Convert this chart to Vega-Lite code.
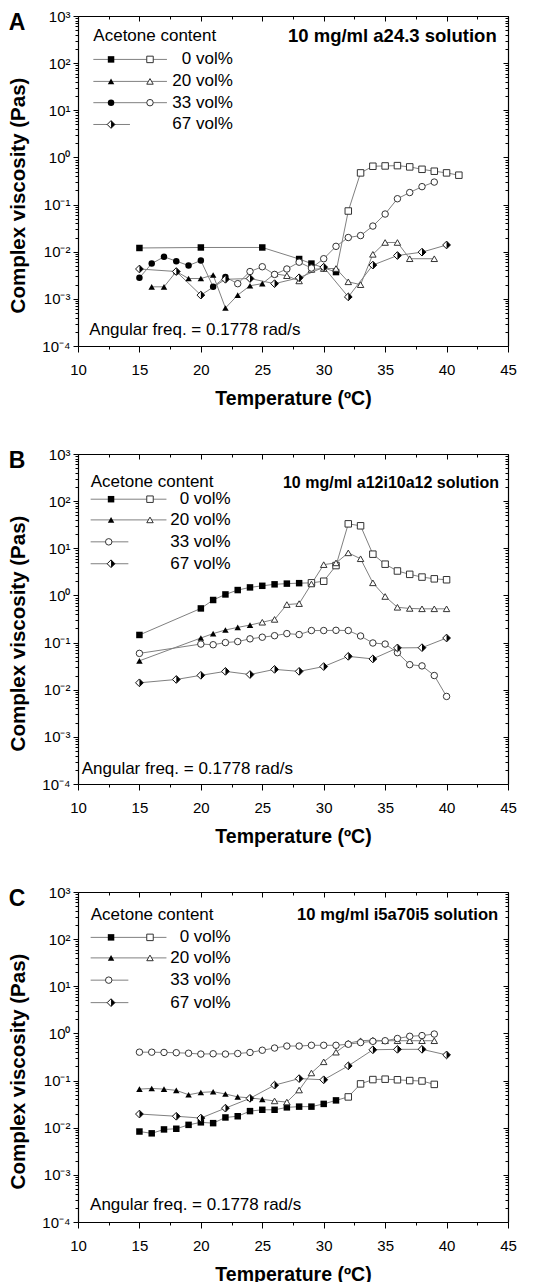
{
"$schema":"https://vega.github.io/schema/vega-lite/v6.json",
"padding":{"left":8,"top":9,"right":0,"bottom":0},
"spacing":39,
"config":{"font":"Liberation Sans","view":{"stroke":null},"axis":{"domainColor":"#000","domainWidth":1.2,"tickColor":"#000","tickWidth":1,"labelColor":"#000","titleColor":"#000","grid":false},"title":{"color":"#000"},"text":{"color":"#000"}},
"datasets":{"visc":[
{"p":"A","s":"0 vol%","T":15,"v":0.012,"g":1},{"p":"A","s":"0 vol%","T":20,"v":0.0123,"g":1},{"p":"A","s":"0 vol%","T":25,"v":0.0123,"g":1},{"p":"A","s":"0 vol%","T":28,"v":0.007,"g":1},{"p":"A","s":"0 vol%","T":29,"v":0.0056,"g":1},{"p":"A","s":"0 vol%","T":31,"v":0.0037,"g":1},
{"p":"A","s":"0 vol%","T":32,"v":0.073,"g":2},{"p":"A","s":"0 vol%","T":33,"v":0.47,"g":2},{"p":"A","s":"0 vol%","T":34,"v":0.65,"g":2},{"p":"A","s":"0 vol%","T":35,"v":0.66,"g":2},{"p":"A","s":"0 vol%","T":36,"v":0.67,"g":2},{"p":"A","s":"0 vol%","T":37,"v":0.63,"g":2},{"p":"A","s":"0 vol%","T":38,"v":0.56,"g":2},{"p":"A","s":"0 vol%","T":39,"v":0.51,"g":2},{"p":"A","s":"0 vol%","T":40,"v":0.47,"g":2},{"p":"A","s":"0 vol%","T":41,"v":0.42,"g":2},
{"p":"A","s":"20 vol%","T":16,"v":0.0018,"g":1},{"p":"A","s":"20 vol%","T":17,"v":0.0018,"g":1},{"p":"A","s":"20 vol%","T":18,"v":0.0038,"g":1},{"p":"A","s":"20 vol%","T":19,"v":0.0027,"g":1},{"p":"A","s":"20 vol%","T":20,"v":0.0027,"g":1},{"p":"A","s":"20 vol%","T":21,"v":0.0032,"g":1},{"p":"A","s":"20 vol%","T":22,"v":0.00064,"g":1},{"p":"A","s":"20 vol%","T":23,"v":0.0012,"g":1},{"p":"A","s":"20 vol%","T":24,"v":0.0019,"g":1},{"p":"A","s":"20 vol%","T":25,"v":0.0021,"g":1},
{"p":"A","s":"20 vol%","T":26,"v":0.0034,"g":2},{"p":"A","s":"20 vol%","T":27,"v":0.0031,"g":2},{"p":"A","s":"20 vol%","T":28,"v":0.0024,"g":2},{"p":"A","s":"20 vol%","T":29,"v":0.0042,"g":2},{"p":"A","s":"20 vol%","T":30,"v":0.0044,"g":2},{"p":"A","s":"20 vol%","T":31,"v":0.0044,"g":2},{"p":"A","s":"20 vol%","T":32,"v":0.0023,"g":2},{"p":"A","s":"20 vol%","T":33,"v":0.002,"g":2},{"p":"A","s":"20 vol%","T":34,"v":0.0088,"g":2},{"p":"A","s":"20 vol%","T":35,"v":0.0157,"g":2},{"p":"A","s":"20 vol%","T":36,"v":0.0157,"g":2},{"p":"A","s":"20 vol%","T":37,"v":0.0071,"g":2},{"p":"A","s":"20 vol%","T":39,"v":0.0071,"g":2},
{"p":"A","s":"33 vol%","T":15,"v":0.0028,"g":1},{"p":"A","s":"33 vol%","T":16,"v":0.0056,"g":1},{"p":"A","s":"33 vol%","T":17,"v":0.0078,"g":1},{"p":"A","s":"33 vol%","T":18,"v":0.0063,"g":1},{"p":"A","s":"33 vol%","T":19,"v":0.0051,"g":1},{"p":"A","s":"33 vol%","T":20,"v":0.0065,"g":1},{"p":"A","s":"33 vol%","T":21,"v":0.0018,"g":1},{"p":"A","s":"33 vol%","T":22,"v":0.0029,"g":1},
{"p":"A","s":"33 vol%","T":23,"v":0.0021,"g":2},{"p":"A","s":"33 vol%","T":24,"v":0.0038,"g":2},{"p":"A","s":"33 vol%","T":25,"v":0.0048,"g":2},{"p":"A","s":"33 vol%","T":26,"v":0.0033,"g":2},{"p":"A","s":"33 vol%","T":27,"v":0.0043,"g":2},{"p":"A","s":"33 vol%","T":28,"v":0.006,"g":2},{"p":"A","s":"33 vol%","T":29,"v":0.0045,"g":2},{"p":"A","s":"33 vol%","T":30,"v":0.0071,"g":2},{"p":"A","s":"33 vol%","T":31,"v":0.013,"g":2},{"p":"A","s":"33 vol%","T":32,"v":0.02,"g":2},{"p":"A","s":"33 vol%","T":33,"v":0.022,"g":2},{"p":"A","s":"33 vol%","T":34,"v":0.035,"g":2},{"p":"A","s":"33 vol%","T":35,"v":0.063,"g":2},{"p":"A","s":"33 vol%","T":36,"v":0.133,"g":2},{"p":"A","s":"33 vol%","T":37,"v":0.18,"g":2},{"p":"A","s":"33 vol%","T":38,"v":0.24,"g":2},{"p":"A","s":"33 vol%","T":39,"v":0.3,"g":2},
{"p":"A","s":"67 vol%","T":15,"v":0.0043,"g":1},{"p":"A","s":"67 vol%","T":18,"v":0.0038,"g":1},{"p":"A","s":"67 vol%","T":20,"v":0.0012,"g":1},{"p":"A","s":"67 vol%","T":22,"v":0.0026,"g":1},{"p":"A","s":"67 vol%","T":24,"v":0.0027,"g":1},{"p":"A","s":"67 vol%","T":26,"v":0.0021,"g":1},{"p":"A","s":"67 vol%","T":28,"v":0.0028,"g":1},{"p":"A","s":"67 vol%","T":30,"v":0.0047,"g":1},{"p":"A","s":"67 vol%","T":32,"v":0.0011,"g":1},{"p":"A","s":"67 vol%","T":34,"v":0.0052,"g":1},{"p":"A","s":"67 vol%","T":36,"v":0.0083,"g":1},{"p":"A","s":"67 vol%","T":38,"v":0.0098,"g":1},{"p":"A","s":"67 vol%","T":40,"v":0.0139,"g":1},
{"p":"B","s":"0 vol%","T":15,"v":0.145,"g":1},{"p":"B","s":"0 vol%","T":20,"v":0.53,"g":1},{"p":"B","s":"0 vol%","T":21,"v":0.8,"g":1},{"p":"B","s":"0 vol%","T":22,"v":1.05,"g":1},{"p":"B","s":"0 vol%","T":23,"v":1.3,"g":1},{"p":"B","s":"0 vol%","T":24,"v":1.48,"g":1},{"p":"B","s":"0 vol%","T":25,"v":1.6,"g":1},{"p":"B","s":"0 vol%","T":26,"v":1.72,"g":1},{"p":"B","s":"0 vol%","T":27,"v":1.78,"g":1},{"p":"B","s":"0 vol%","T":28,"v":1.82,"g":1},
{"p":"B","s":"0 vol%","T":29,"v":1.85,"g":2},{"p":"B","s":"0 vol%","T":30,"v":2.0,"g":2},{"p":"B","s":"0 vol%","T":31,"v":4.3,"g":2},{"p":"B","s":"0 vol%","T":32,"v":33,"g":2},{"p":"B","s":"0 vol%","T":33,"v":30,"g":2},{"p":"B","s":"0 vol%","T":34,"v":7.5,"g":2},{"p":"B","s":"0 vol%","T":35,"v":4.6,"g":2},{"p":"B","s":"0 vol%","T":36,"v":3.3,"g":2},{"p":"B","s":"0 vol%","T":37,"v":2.8,"g":2},{"p":"B","s":"0 vol%","T":38,"v":2.45,"g":2},{"p":"B","s":"0 vol%","T":39,"v":2.25,"g":2},{"p":"B","s":"0 vol%","T":40,"v":2.15,"g":2},
{"p":"B","s":"20 vol%","T":15,"v":0.041,"g":1},{"p":"B","s":"20 vol%","T":20,"v":0.125,"g":1},{"p":"B","s":"20 vol%","T":21,"v":0.155,"g":1},{"p":"B","s":"20 vol%","T":22,"v":0.185,"g":1},{"p":"B","s":"20 vol%","T":23,"v":0.21,"g":1},{"p":"B","s":"20 vol%","T":24,"v":0.235,"g":1},
{"p":"B","s":"20 vol%","T":25,"v":0.27,"g":2},{"p":"B","s":"20 vol%","T":26,"v":0.31,"g":2},{"p":"B","s":"20 vol%","T":27,"v":0.64,"g":2},{"p":"B","s":"20 vol%","T":28,"v":0.67,"g":2},{"p":"B","s":"20 vol%","T":29,"v":1.75,"g":2},{"p":"B","s":"20 vol%","T":30,"v":4.5,"g":2},{"p":"B","s":"20 vol%","T":31,"v":4.9,"g":2},{"p":"B","s":"20 vol%","T":32,"v":8.0,"g":2},{"p":"B","s":"20 vol%","T":33,"v":6.0,"g":2},{"p":"B","s":"20 vol%","T":34,"v":1.85,"g":2},{"p":"B","s":"20 vol%","T":35,"v":0.95,"g":2},{"p":"B","s":"20 vol%","T":36,"v":0.56,"g":2},{"p":"B","s":"20 vol%","T":37,"v":0.53,"g":2},{"p":"B","s":"20 vol%","T":38,"v":0.52,"g":2},{"p":"B","s":"20 vol%","T":39,"v":0.52,"g":2},{"p":"B","s":"20 vol%","T":40,"v":0.52,"g":2},
{"p":"B","s":"33 vol%","T":15,"v":0.059,"g":2},{"p":"B","s":"33 vol%","T":20,"v":0.093,"g":2},{"p":"B","s":"33 vol%","T":21,"v":0.09,"g":2},{"p":"B","s":"33 vol%","T":22,"v":0.1,"g":2},{"p":"B","s":"33 vol%","T":23,"v":0.105,"g":2},{"p":"B","s":"33 vol%","T":24,"v":0.12,"g":2},{"p":"B","s":"33 vol%","T":25,"v":0.13,"g":2},{"p":"B","s":"33 vol%","T":26,"v":0.14,"g":2},{"p":"B","s":"33 vol%","T":27,"v":0.155,"g":2},{"p":"B","s":"33 vol%","T":28,"v":0.148,"g":2},{"p":"B","s":"33 vol%","T":29,"v":0.18,"g":2},{"p":"B","s":"33 vol%","T":30,"v":0.18,"g":2},{"p":"B","s":"33 vol%","T":31,"v":0.182,"g":2},{"p":"B","s":"33 vol%","T":32,"v":0.18,"g":2},{"p":"B","s":"33 vol%","T":33,"v":0.138,"g":2},{"p":"B","s":"33 vol%","T":34,"v":0.098,"g":2},{"p":"B","s":"33 vol%","T":35,"v":0.093,"g":2},{"p":"B","s":"33 vol%","T":36,"v":0.061,"g":2},{"p":"B","s":"33 vol%","T":37,"v":0.034,"g":2},{"p":"B","s":"33 vol%","T":38,"v":0.032,"g":2},{"p":"B","s":"33 vol%","T":39,"v":0.02,"g":2},{"p":"B","s":"33 vol%","T":40,"v":0.0072,"g":2},
{"p":"B","s":"67 vol%","T":15,"v":0.014,"g":1},{"p":"B","s":"67 vol%","T":18,"v":0.0165,"g":1},{"p":"B","s":"67 vol%","T":20,"v":0.0202,"g":1},{"p":"B","s":"67 vol%","T":22,"v":0.0245,"g":1},{"p":"B","s":"67 vol%","T":24,"v":0.021,"g":1},{"p":"B","s":"67 vol%","T":26,"v":0.027,"g":1},{"p":"B","s":"67 vol%","T":28,"v":0.0245,"g":1},{"p":"B","s":"67 vol%","T":30,"v":0.031,"g":1},{"p":"B","s":"67 vol%","T":32,"v":0.051,"g":1},{"p":"B","s":"67 vol%","T":34,"v":0.045,"g":1},{"p":"B","s":"67 vol%","T":36,"v":0.077,"g":1},{"p":"B","s":"67 vol%","T":38,"v":0.078,"g":1},{"p":"B","s":"67 vol%","T":40,"v":0.125,"g":1},
{"p":"C","s":"0 vol%","T":15,"v":0.0083,"g":1},{"p":"C","s":"0 vol%","T":16,"v":0.0076,"g":1},{"p":"C","s":"0 vol%","T":17,"v":0.0092,"g":1},{"p":"C","s":"0 vol%","T":18,"v":0.0095,"g":1},{"p":"C","s":"0 vol%","T":19,"v":0.0115,"g":1},{"p":"C","s":"0 vol%","T":20,"v":0.013,"g":1},{"p":"C","s":"0 vol%","T":21,"v":0.0125,"g":1},{"p":"C","s":"0 vol%","T":22,"v":0.0165,"g":1},{"p":"C","s":"0 vol%","T":23,"v":0.0175,"g":1},{"p":"C","s":"0 vol%","T":24,"v":0.0225,"g":1},{"p":"C","s":"0 vol%","T":25,"v":0.024,"g":1},{"p":"C","s":"0 vol%","T":26,"v":0.024,"g":1},{"p":"C","s":"0 vol%","T":27,"v":0.027,"g":1},{"p":"C","s":"0 vol%","T":28,"v":0.028,"g":1},{"p":"C","s":"0 vol%","T":29,"v":0.028,"g":1},{"p":"C","s":"0 vol%","T":30,"v":0.032,"g":1},{"p":"C","s":"0 vol%","T":31,"v":0.038,"g":1},
{"p":"C","s":"0 vol%","T":32,"v":0.045,"g":2},{"p":"C","s":"0 vol%","T":33,"v":0.085,"g":2},{"p":"C","s":"0 vol%","T":34,"v":0.105,"g":2},{"p":"C","s":"0 vol%","T":35,"v":0.107,"g":2},{"p":"C","s":"0 vol%","T":36,"v":0.104,"g":2},{"p":"C","s":"0 vol%","T":37,"v":0.1,"g":2},{"p":"C","s":"0 vol%","T":38,"v":0.098,"g":2},{"p":"C","s":"0 vol%","T":39,"v":0.083,"g":2},
{"p":"C","s":"20 vol%","T":15,"v":0.066,"g":1},{"p":"C","s":"20 vol%","T":16,"v":0.068,"g":1},{"p":"C","s":"20 vol%","T":17,"v":0.066,"g":1},{"p":"C","s":"20 vol%","T":18,"v":0.062,"g":1},{"p":"C","s":"20 vol%","T":19,"v":0.05,"g":1},{"p":"C","s":"20 vol%","T":20,"v":0.056,"g":1},{"p":"C","s":"20 vol%","T":21,"v":0.058,"g":1},{"p":"C","s":"20 vol%","T":22,"v":0.052,"g":1},{"p":"C","s":"20 vol%","T":23,"v":0.045,"g":1},{"p":"C","s":"20 vol%","T":24,"v":0.043,"g":1},{"p":"C","s":"20 vol%","T":25,"v":0.04,"g":1},
{"p":"C","s":"20 vol%","T":26,"v":0.037,"g":2},{"p":"C","s":"20 vol%","T":27,"v":0.035,"g":2},{"p":"C","s":"20 vol%","T":28,"v":0.063,"g":2},{"p":"C","s":"20 vol%","T":29,"v":0.145,"g":2},{"p":"C","s":"20 vol%","T":30,"v":0.25,"g":2},{"p":"C","s":"20 vol%","T":31,"v":0.4,"g":2},{"p":"C","s":"20 vol%","T":32,"v":0.62,"g":2},{"p":"C","s":"20 vol%","T":33,"v":0.7,"g":2},{"p":"C","s":"20 vol%","T":34,"v":0.72,"g":2},{"p":"C","s":"20 vol%","T":35,"v":0.7,"g":2},{"p":"C","s":"20 vol%","T":36,"v":0.7,"g":2},{"p":"C","s":"20 vol%","T":37,"v":0.7,"g":2},{"p":"C","s":"20 vol%","T":38,"v":0.7,"g":2},{"p":"C","s":"20 vol%","T":39,"v":0.7,"g":2},
{"p":"C","s":"33 vol%","T":15,"v":0.4,"g":2},{"p":"C","s":"33 vol%","T":16,"v":0.4,"g":2},{"p":"C","s":"33 vol%","T":17,"v":0.395,"g":2},{"p":"C","s":"33 vol%","T":18,"v":0.39,"g":2},{"p":"C","s":"33 vol%","T":19,"v":0.38,"g":2},{"p":"C","s":"33 vol%","T":20,"v":0.365,"g":2},{"p":"C","s":"33 vol%","T":21,"v":0.37,"g":2},{"p":"C","s":"33 vol%","T":22,"v":0.365,"g":2},{"p":"C","s":"33 vol%","T":23,"v":0.375,"g":2},{"p":"C","s":"33 vol%","T":24,"v":0.395,"g":2},{"p":"C","s":"33 vol%","T":25,"v":0.44,"g":2},{"p":"C","s":"33 vol%","T":26,"v":0.49,"g":2},{"p":"C","s":"33 vol%","T":27,"v":0.54,"g":2},{"p":"C","s":"33 vol%","T":28,"v":0.54,"g":2},{"p":"C","s":"33 vol%","T":29,"v":0.56,"g":2},{"p":"C","s":"33 vol%","T":30,"v":0.56,"g":2},{"p":"C","s":"33 vol%","T":31,"v":0.56,"g":2},{"p":"C","s":"33 vol%","T":32,"v":0.59,"g":2},{"p":"C","s":"33 vol%","T":33,"v":0.64,"g":2},{"p":"C","s":"33 vol%","T":34,"v":0.68,"g":2},{"p":"C","s":"33 vol%","T":35,"v":0.7,"g":2},{"p":"C","s":"33 vol%","T":36,"v":0.78,"g":2},{"p":"C","s":"33 vol%","T":37,"v":0.87,"g":2},{"p":"C","s":"33 vol%","T":38,"v":0.9,"g":2},{"p":"C","s":"33 vol%","T":39,"v":0.97,"g":2},
{"p":"C","s":"67 vol%","T":15,"v":0.0195,"g":1},{"p":"C","s":"67 vol%","T":18,"v":0.0175,"g":1},{"p":"C","s":"67 vol%","T":20,"v":0.016,"g":1},{"p":"C","s":"67 vol%","T":22,"v":0.026,"g":1},{"p":"C","s":"67 vol%","T":24,"v":0.042,"g":1},{"p":"C","s":"67 vol%","T":26,"v":0.08,"g":1},{"p":"C","s":"67 vol%","T":28,"v":0.11,"g":1},{"p":"C","s":"67 vol%","T":30,"v":0.104,"g":1},{"p":"C","s":"67 vol%","T":32,"v":0.205,"g":1},{"p":"C","s":"67 vol%","T":34,"v":0.45,"g":1},{"p":"C","s":"67 vol%","T":36,"v":0.46,"g":1},{"p":"C","s":"67 vol%","T":38,"v":0.46,"g":1},{"p":"C","s":"67 vol%","T":40,"v":0.35,"g":1}
]},
"vconcat":[
{"width":430,"height":330,
"title":{"text":"A","anchor":"start","frame":"bounds","fontSize":23,"fontWeight":"bold","baseline":"alphabetic","offset":-20,"dy":24},
"resolve":{"axis":{"x":"independent","y":"independent"}},
"layer":[
{"data":{"name":"visc"},"transform":[{"filter":"datum.p==='A'"}],"mark":{"type":"line","color":"#808080","strokeWidth":1},
"encoding":{"x":{"field":"T","type":"quantitative","scale":{"domain":[10,45],"nice":false,"zero":false},"axis":{"orient":"bottom","values":[10,15,20,25,30,35,40,45],"title":"Temperature (ºC)","titleFontSize":19.5,"titleFontWeight":"bold","titlePadding":12,"labelFontSize":15,"labelPadding":10,"tickSize":6,"labelFlush":false,"labelOverlap":false}},
"y":{"field":"v","type":"quantitative","scale":{"type":"log","domain":[0.0001,1000],"nice":false},"axis":{"orient":"left","values":[0.0001,0.001,0.01,0.1,1,10,100,1000],"labelExpr":"'10' + (datum.value < 1 ? '⁻' : '') + ['⁰','¹','²','³','⁴'][abs(round(log(datum.value)/LN10))]","title":"Complex viscosity (Pas)","titleFontSize":20.5,"titleFontWeight":"bold","titleY":179,"titlePadding":13,"labelFontSize":15,"labelPadding":3,"tickSize":5,"labelOverlap":false}},
"detail":{"field":"s"}}},
{"data":{"name":"visc"},"transform":[{"filter":"datum.p==='A' && datum.g===1 && datum.s!=='67 vol%'"}],"mark":{"type":"point","filled":true,"fill":"#000","strokeWidth":0,"size":42,"opacity":1},
"encoding":{"x":{"field":"T","type":"quantitative","axis":{"orient":"bottom","values":[12.5,17.5,22.5,27.5,32.5,37.5,42.5],"labels":false,"domain":false,"tickSize":3,"title":null}},
"y":{"field":"v","type":"quantitative","scale":{"type":"log"},"axis":{"orient":"left","values":[0.0002,0.0003,0.0004,0.0005,0.0006,0.0007,0.0008,0.0009,0.002,0.003,0.004,0.005,0.006,0.007,0.008,0.009,0.02,0.03,0.04,0.05,0.06,0.07,0.08,0.09,0.2,0.3,0.4,0.5,0.6,0.7,0.8,0.9,2,3,4,5,6,7,8,9,20,30,40,50,60,70,80,90,200,300,400,500,600,700,800,900],"labels":false,"domain":false,"tickSize":3,"title":null}},
"shape":{"field":"s","scale":{"domain":["0 vol%","20 vol%","33 vol%","67 vol%"],"range":["square","triangle-up","circle","diamond"]},"legend":null}}},
{"data":{"name":"visc"},"transform":[{"filter":"datum.p==='A' && datum.g===2"}],"mark":{"type":"point","filled":true,"fill":"#fff","stroke":"#333","strokeWidth":1,"size":42,"opacity":1},
"encoding":{"x":{"field":"T","type":"quantitative","axis":{"orient":"top","values":[10,15,20,25,30,35,40,45],"labels":false,"tickSize":-5,"title":null}},
"y":{"field":"v","type":"quantitative","scale":{"type":"log"},"axis":{"orient":"right","values":[0.0001,0.001,0.01,0.1,1,10,100,1000],"labels":false,"tickSize":-5,"title":null}},
"shape":{"field":"s","legend":null}}},
{"data":{"name":"visc"},"transform":[{"filter":"datum.p==='A' && datum.s==='67 vol%'"}],"mark":{"type":"point","shape":"diamond","filled":true,"fill":"#fff","stroke":"#111","strokeWidth":1,"size":60,"opacity":1},
"encoding":{"x":{"field":"T","type":"quantitative","axis":{"orient":"top","values":[12.5,17.5,22.5,27.5,32.5,37.5,42.5],"labels":false,"domain":false,"tickSize":-3,"title":null}},
"y":{"field":"v","type":"quantitative","scale":{"type":"log"},"axis":{"orient":"right","values":[0.0002,0.0003,0.0004,0.0005,0.0006,0.0007,0.0008,0.0009,0.002,0.003,0.004,0.005,0.006,0.007,0.008,0.009,0.02,0.03,0.04,0.05,0.06,0.07,0.08,0.09,0.2,0.3,0.4,0.5,0.6,0.7,0.8,0.9,2,3,4,5,6,7,8,9,20,30,40,50,60,70,80,90,200,300,400,500,600,700,800,900],"labels":false,"domain":false,"tickSize":-3,"title":null}}}},
{"data":{"name":"visc"},"transform":[{"filter":"datum.p==='A' && datum.s==='67 vol%'"}],"mark":{"type":"point","shape":"M0,-1L1,0L0,1Z","filled":true,"fill":"#000","strokeWidth":0,"size":60,"opacity":1},
"encoding":{"x":{"field":"T","type":"quantitative","axis":null},"y":{"field":"v","type":"quantitative","scale":{"type":"log"},"axis":null}}},
{"data":{"values":[{}]},"mark":{"type":"text","text":"Acetone content","align":"left","baseline":"middle","fontSize":17},"encoding":{"x":{"datum":11.25,"axis":null},"y":{"datum":370,"scale":{"type":"log"},"axis":null}}},
{"data":{"values":[{}]},"mark":{"type":"text","text":"10 mg/ml a24.3 solution","align":"right","baseline":"middle","fontSize":18.5,"fontWeight":"bold"},"encoding":{"x":{"datum":44.08,"axis":null},"y":{"datum":370,"scale":{"type":"log"},"axis":null}}},
{"data":{"values":[{}]},"mark":{"type":"text","text":"Angular freq. = 0.1778 rad/s","align":"left","baseline":"middle","fontSize":17},"encoding":{"x":{"datum":10.92,"axis":null},"y":{"datum":0.00022,"scale":{"type":"log"},"axis":null}}},
{"data":{"values":[{}]},"mark":{"type":"text","text":"0 vol%","align":"right","baseline":"middle","fontSize":17},"encoding":{"x":{"datum":22.6,"axis":null},"y":{"datum":120,"scale":{"type":"log"},"axis":null}}},
{"data":{"values":[{}]},"mark":{"type":"text","text":"20 vol%","align":"right","baseline":"middle","fontSize":17},"encoding":{"x":{"datum":22.6,"axis":null},"y":{"datum":41,"scale":{"type":"log"},"axis":null}}},
{"data":{"values":[{}]},"mark":{"type":"text","text":"33 vol%","align":"right","baseline":"middle","fontSize":17},"encoding":{"x":{"datum":22.6,"axis":null},"y":{"datum":14.5,"scale":{"type":"log"},"axis":null}}},
{"data":{"values":[{}]},"mark":{"type":"text","text":"67 vol%","align":"right","baseline":"middle","fontSize":17},"encoding":{"x":{"datum":22.6,"axis":null},"y":{"datum":5.0,"scale":{"type":"log"},"axis":null}}},
{"data":{"values":[{}]},"mark":{"type":"rule","color":"#808080","strokeWidth":1},"encoding":{"x":{"datum":11.25,"axis":null},"x2":{"datum":17.24},"y":{"datum":120,"scale":{"type":"log"},"axis":null}}},
{"data":{"values":[{}]},"mark":{"type":"rule","color":"#808080","strokeWidth":1},"encoding":{"x":{"datum":11.25,"axis":null},"x2":{"datum":17.24},"y":{"datum":41,"scale":{"type":"log"},"axis":null}}},
{"data":{"values":[{}]},"mark":{"type":"rule","color":"#808080","strokeWidth":1},"encoding":{"x":{"datum":11.25,"axis":null},"x2":{"datum":17.24},"y":{"datum":14.5,"scale":{"type":"log"},"axis":null}}},
{"data":{"values":[{}]},"mark":{"type":"rule","color":"#808080","strokeWidth":1},"encoding":{"x":{"datum":11.25,"axis":null},"x2":{"datum":14.23},"y":{"datum":5.0,"scale":{"type":"log"},"axis":null}}},
{"data":{"values":[{}]},"mark":{"type":"point","shape":"square","filled":true,"fill":"#000","strokeWidth":0,"size":42,"opacity":1},"encoding":{"x":{"datum":12.69,"axis":null},"y":{"datum":120,"scale":{"type":"log"},"axis":null}}},
{"data":{"values":[{}]},"mark":{"type":"point","shape":"square","filled":true,"fill":"#fff","stroke":"#333","strokeWidth":1,"size":42,"opacity":1},"encoding":{"x":{"datum":15.86,"axis":null},"y":{"datum":120,"scale":{"type":"log"},"axis":null}}},
{"data":{"values":[{}]},"mark":{"type":"point","shape":"triangle-up","filled":true,"fill":"#000","strokeWidth":0,"size":42,"opacity":1},"encoding":{"x":{"datum":12.69,"axis":null},"y":{"datum":41,"scale":{"type":"log"},"axis":null}}},
{"data":{"values":[{}]},"mark":{"type":"point","shape":"triangle-up","filled":true,"fill":"#fff","stroke":"#333","strokeWidth":1,"size":42,"opacity":1},"encoding":{"x":{"datum":15.86,"axis":null},"y":{"datum":41,"scale":{"type":"log"},"axis":null}}},
{"data":{"values":[{}]},"mark":{"type":"point","shape":"circle","filled":true,"fill":"#000","strokeWidth":0,"size":42,"opacity":1},"encoding":{"x":{"datum":12.69,"axis":null},"y":{"datum":14.5,"scale":{"type":"log"},"axis":null}}},
{"data":{"values":[{}]},"mark":{"type":"point","shape":"circle","filled":true,"fill":"#fff","stroke":"#333","strokeWidth":1,"size":42,"opacity":1},"encoding":{"x":{"datum":15.86,"axis":null},"y":{"datum":14.5,"scale":{"type":"log"},"axis":null}}},
{"data":{"values":[{}]},"mark":{"type":"point","shape":"diamond","filled":true,"fill":"#fff","stroke":"#111","strokeWidth":1,"size":60,"opacity":1},"encoding":{"x":{"datum":12.69,"axis":null},"y":{"datum":5.0,"scale":{"type":"log"},"axis":null}}},
{"data":{"values":[{}]},"mark":{"type":"point","shape":"M0,-1L1,0L0,1Z","filled":true,"fill":"#000","strokeWidth":0,"size":60,"opacity":1},"encoding":{"x":{"datum":12.69,"axis":null},"y":{"datum":5.0,"scale":{"type":"log"},"axis":null}}}
]},
{"width":430,"height":330,
"title":{"text":"B","anchor":"start","frame":"bounds","fontSize":23,"fontWeight":"bold","baseline":"alphabetic","offset":-20,"dy":24},
"resolve":{"axis":{"x":"independent","y":"independent"}},
"layer":[
{"data":{"name":"visc"},"transform":[{"filter":"datum.p==='B'"}],"mark":{"type":"line","color":"#808080","strokeWidth":1},
"encoding":{"x":{"field":"T","type":"quantitative","scale":{"domain":[10,45],"nice":false,"zero":false},"axis":{"orient":"bottom","values":[10,15,20,25,30,35,40,45],"title":"Temperature (ºC)","titleFontSize":19.5,"titleFontWeight":"bold","titlePadding":12,"labelFontSize":15,"labelPadding":10,"tickSize":6,"labelFlush":false,"labelOverlap":false}},
"y":{"field":"v","type":"quantitative","scale":{"type":"log","domain":[0.0001,1000],"nice":false},"axis":{"orient":"left","values":[0.0001,0.001,0.01,0.1,1,10,100,1000],"labelExpr":"'10' + (datum.value < 1 ? '⁻' : '') + ['⁰','¹','²','³','⁴'][abs(round(log(datum.value)/LN10))]","title":"Complex viscosity (Pas)","titleFontSize":20.5,"titleFontWeight":"bold","titleY":179,"titlePadding":13,"labelFontSize":15,"labelPadding":3,"tickSize":5,"labelOverlap":false}},
"detail":{"field":"s"}}},
{"data":{"name":"visc"},"transform":[{"filter":"datum.p==='B' && datum.g===1 && datum.s!=='67 vol%'"}],"mark":{"type":"point","filled":true,"fill":"#000","strokeWidth":0,"size":42,"opacity":1},
"encoding":{"x":{"field":"T","type":"quantitative","axis":{"orient":"bottom","values":[12.5,17.5,22.5,27.5,32.5,37.5,42.5],"labels":false,"domain":false,"tickSize":3,"title":null}},
"y":{"field":"v","type":"quantitative","scale":{"type":"log"},"axis":{"orient":"left","values":[0.0002,0.0003,0.0004,0.0005,0.0006,0.0007,0.0008,0.0009,0.002,0.003,0.004,0.005,0.006,0.007,0.008,0.009,0.02,0.03,0.04,0.05,0.06,0.07,0.08,0.09,0.2,0.3,0.4,0.5,0.6,0.7,0.8,0.9,2,3,4,5,6,7,8,9,20,30,40,50,60,70,80,90,200,300,400,500,600,700,800,900],"labels":false,"domain":false,"tickSize":3,"title":null}},
"shape":{"field":"s","scale":{"domain":["0 vol%","20 vol%","33 vol%","67 vol%"],"range":["square","triangle-up","circle","diamond"]},"legend":null}}},
{"data":{"name":"visc"},"transform":[{"filter":"datum.p==='B' && datum.g===2"}],"mark":{"type":"point","filled":true,"fill":"#fff","stroke":"#333","strokeWidth":1,"size":42,"opacity":1},
"encoding":{"x":{"field":"T","type":"quantitative","axis":{"orient":"top","values":[10,15,20,25,30,35,40,45],"labels":false,"tickSize":-5,"title":null}},
"y":{"field":"v","type":"quantitative","scale":{"type":"log"},"axis":{"orient":"right","values":[0.0001,0.001,0.01,0.1,1,10,100,1000],"labels":false,"tickSize":-5,"title":null}},
"shape":{"field":"s","legend":null}}},
{"data":{"name":"visc"},"transform":[{"filter":"datum.p==='B' && datum.s==='67 vol%'"}],"mark":{"type":"point","shape":"diamond","filled":true,"fill":"#fff","stroke":"#111","strokeWidth":1,"size":60,"opacity":1},
"encoding":{"x":{"field":"T","type":"quantitative","axis":{"orient":"top","values":[12.5,17.5,22.5,27.5,32.5,37.5,42.5],"labels":false,"domain":false,"tickSize":-3,"title":null}},
"y":{"field":"v","type":"quantitative","scale":{"type":"log"},"axis":{"orient":"right","values":[0.0002,0.0003,0.0004,0.0005,0.0006,0.0007,0.0008,0.0009,0.002,0.003,0.004,0.005,0.006,0.007,0.008,0.009,0.02,0.03,0.04,0.05,0.06,0.07,0.08,0.09,0.2,0.3,0.4,0.5,0.6,0.7,0.8,0.9,2,3,4,5,6,7,8,9,20,30,40,50,60,70,80,90,200,300,400,500,600,700,800,900],"labels":false,"domain":false,"tickSize":-3,"title":null}}}},
{"data":{"name":"visc"},"transform":[{"filter":"datum.p==='B' && datum.s==='67 vol%'"}],"mark":{"type":"point","shape":"M0,-1L1,0L0,1Z","filled":true,"fill":"#000","strokeWidth":0,"size":60,"opacity":1},
"encoding":{"x":{"field":"T","type":"quantitative","axis":null},"y":{"field":"v","type":"quantitative","scale":{"type":"log"},"axis":null}}},
{"data":{"values":[{}]},"mark":{"type":"text","text":"Acetone content","align":"left","baseline":"middle","fontSize":17},"encoding":{"x":{"datum":11.03,"axis":null},"y":{"datum":255,"scale":{"type":"log"},"axis":null}}},
{"data":{"values":[{}]},"mark":{"type":"text","text":"10 mg/ml a12i10a12 solution","align":"right","baseline":"middle","fontSize":16,"fontWeight":"bold"},"encoding":{"x":{"datum":44.27,"axis":null},"y":{"datum":240,"scale":{"type":"log"},"axis":null}}},
{"data":{"values":[{}]},"mark":{"type":"text","text":"Angular freq. = 0.1778 rad/s","align":"left","baseline":"middle","fontSize":17},"encoding":{"x":{"datum":10.3,"axis":null},"y":{"datum":0.00021,"scale":{"type":"log"},"axis":null}}},
{"data":{"values":[{}]},"mark":{"type":"text","text":"0 vol%","align":"right","baseline":"middle","fontSize":17},"encoding":{"x":{"datum":22.43,"axis":null},"y":{"datum":110,"scale":{"type":"log"},"axis":null}}},
{"data":{"values":[{}]},"mark":{"type":"text","text":"20 vol%","align":"right","baseline":"middle","fontSize":17},"encoding":{"x":{"datum":22.43,"axis":null},"y":{"datum":40,"scale":{"type":"log"},"axis":null}}},
{"data":{"values":[{}]},"mark":{"type":"text","text":"33 vol%","align":"right","baseline":"middle","fontSize":17},"encoding":{"x":{"datum":22.43,"axis":null},"y":{"datum":13.7,"scale":{"type":"log"},"axis":null}}},
{"data":{"values":[{}]},"mark":{"type":"text","text":"67 vol%","align":"right","baseline":"middle","fontSize":17},"encoding":{"x":{"datum":22.43,"axis":null},"y":{"datum":4.7,"scale":{"type":"log"},"axis":null}}},
{"data":{"values":[{}]},"mark":{"type":"rule","color":"#808080","strokeWidth":1},"encoding":{"x":{"datum":11.03,"axis":null},"x2":{"datum":17.2},"y":{"datum":110,"scale":{"type":"log"},"axis":null}}},
{"data":{"values":[{}]},"mark":{"type":"rule","color":"#808080","strokeWidth":1},"encoding":{"x":{"datum":11.03,"axis":null},"x2":{"datum":17.2},"y":{"datum":40,"scale":{"type":"log"},"axis":null}}},
{"data":{"values":[{}]},"mark":{"type":"rule","color":"#808080","strokeWidth":1},"encoding":{"x":{"datum":11.03,"axis":null},"x2":{"datum":14.1},"y":{"datum":13.7,"scale":{"type":"log"},"axis":null}}},
{"data":{"values":[{}]},"mark":{"type":"rule","color":"#808080","strokeWidth":1},"encoding":{"x":{"datum":11.03,"axis":null},"x2":{"datum":14.1},"y":{"datum":4.7,"scale":{"type":"log"},"axis":null}}},
{"data":{"values":[{}]},"mark":{"type":"point","shape":"square","filled":true,"fill":"#000","strokeWidth":0,"size":42,"opacity":1},"encoding":{"x":{"datum":12.69,"axis":null},"y":{"datum":110,"scale":{"type":"log"},"axis":null}}},
{"data":{"values":[{}]},"mark":{"type":"point","shape":"square","filled":true,"fill":"#fff","stroke":"#333","strokeWidth":1,"size":42,"opacity":1},"encoding":{"x":{"datum":15.86,"axis":null},"y":{"datum":110,"scale":{"type":"log"},"axis":null}}},
{"data":{"values":[{}]},"mark":{"type":"point","shape":"triangle-up","filled":true,"fill":"#000","strokeWidth":0,"size":42,"opacity":1},"encoding":{"x":{"datum":12.69,"axis":null},"y":{"datum":40,"scale":{"type":"log"},"axis":null}}},
{"data":{"values":[{}]},"mark":{"type":"point","shape":"triangle-up","filled":true,"fill":"#fff","stroke":"#333","strokeWidth":1,"size":42,"opacity":1},"encoding":{"x":{"datum":15.86,"axis":null},"y":{"datum":40,"scale":{"type":"log"},"axis":null}}},
{"data":{"values":[{}]},"mark":{"type":"point","shape":"circle","filled":true,"fill":"#fff","stroke":"#333","strokeWidth":1,"size":42,"opacity":1},"encoding":{"x":{"datum":12.5,"axis":null},"y":{"datum":13.7,"scale":{"type":"log"},"axis":null}}},
{"data":{"values":[{}]},"mark":{"type":"point","shape":"diamond","filled":true,"fill":"#fff","stroke":"#111","strokeWidth":1,"size":60,"opacity":1},"encoding":{"x":{"datum":12.69,"axis":null},"y":{"datum":4.7,"scale":{"type":"log"},"axis":null}}},
{"data":{"values":[{}]},"mark":{"type":"point","shape":"M0,-1L1,0L0,1Z","filled":true,"fill":"#000","strokeWidth":0,"size":60,"opacity":1},"encoding":{"x":{"datum":12.69,"axis":null},"y":{"datum":4.7,"scale":{"type":"log"},"axis":null}}}
]},
{"width":430,"height":330,
"title":{"text":"C","anchor":"start","frame":"bounds","fontSize":23,"fontWeight":"bold","baseline":"alphabetic","offset":-20,"dy":24},
"resolve":{"axis":{"x":"independent","y":"independent"}},
"layer":[
{"data":{"name":"visc"},"transform":[{"filter":"datum.p==='C'"}],"mark":{"type":"line","color":"#808080","strokeWidth":1},
"encoding":{"x":{"field":"T","type":"quantitative","scale":{"domain":[10,45],"nice":false,"zero":false},"axis":{"orient":"bottom","values":[10,15,20,25,30,35,40,45],"title":"Temperature (ºC)","titleFontSize":19.5,"titleFontWeight":"bold","titlePadding":12,"labelFontSize":15,"labelPadding":10,"tickSize":6,"labelFlush":false,"labelOverlap":false}},
"y":{"field":"v","type":"quantitative","scale":{"type":"log","domain":[0.0001,1000],"nice":false},"axis":{"orient":"left","values":[0.0001,0.001,0.01,0.1,1,10,100,1000],"labelExpr":"'10' + (datum.value < 1 ? '⁻' : '') + ['⁰','¹','²','³','⁴'][abs(round(log(datum.value)/LN10))]","title":"Complex viscosity (Pas)","titleFontSize":20.5,"titleFontWeight":"bold","titleY":179,"titlePadding":13,"labelFontSize":15,"labelPadding":3,"tickSize":5,"labelOverlap":false}},
"detail":{"field":"s"}}},
{"data":{"name":"visc"},"transform":[{"filter":"datum.p==='C' && datum.g===1 && datum.s!=='67 vol%'"}],"mark":{"type":"point","filled":true,"fill":"#000","strokeWidth":0,"size":42,"opacity":1},
"encoding":{"x":{"field":"T","type":"quantitative","axis":{"orient":"bottom","values":[12.5,17.5,22.5,27.5,32.5,37.5,42.5],"labels":false,"domain":false,"tickSize":3,"title":null}},
"y":{"field":"v","type":"quantitative","scale":{"type":"log"},"axis":{"orient":"left","values":[0.0002,0.0003,0.0004,0.0005,0.0006,0.0007,0.0008,0.0009,0.002,0.003,0.004,0.005,0.006,0.007,0.008,0.009,0.02,0.03,0.04,0.05,0.06,0.07,0.08,0.09,0.2,0.3,0.4,0.5,0.6,0.7,0.8,0.9,2,3,4,5,6,7,8,9,20,30,40,50,60,70,80,90,200,300,400,500,600,700,800,900],"labels":false,"domain":false,"tickSize":3,"title":null}},
"shape":{"field":"s","scale":{"domain":["0 vol%","20 vol%","33 vol%","67 vol%"],"range":["square","triangle-up","circle","diamond"]},"legend":null}}},
{"data":{"name":"visc"},"transform":[{"filter":"datum.p==='C' && datum.g===2"}],"mark":{"type":"point","filled":true,"fill":"#fff","stroke":"#333","strokeWidth":1,"size":42,"opacity":1},
"encoding":{"x":{"field":"T","type":"quantitative","axis":{"orient":"top","values":[10,15,20,25,30,35,40,45],"labels":false,"tickSize":-5,"title":null}},
"y":{"field":"v","type":"quantitative","scale":{"type":"log"},"axis":{"orient":"right","values":[0.0001,0.001,0.01,0.1,1,10,100,1000],"labels":false,"tickSize":-5,"title":null}},
"shape":{"field":"s","legend":null}}},
{"data":{"name":"visc"},"transform":[{"filter":"datum.p==='C' && datum.s==='67 vol%'"}],"mark":{"type":"point","shape":"diamond","filled":true,"fill":"#fff","stroke":"#111","strokeWidth":1,"size":60,"opacity":1},
"encoding":{"x":{"field":"T","type":"quantitative","axis":{"orient":"top","values":[12.5,17.5,22.5,27.5,32.5,37.5,42.5],"labels":false,"domain":false,"tickSize":-3,"title":null}},
"y":{"field":"v","type":"quantitative","scale":{"type":"log"},"axis":{"orient":"right","values":[0.0002,0.0003,0.0004,0.0005,0.0006,0.0007,0.0008,0.0009,0.002,0.003,0.004,0.005,0.006,0.007,0.008,0.009,0.02,0.03,0.04,0.05,0.06,0.07,0.08,0.09,0.2,0.3,0.4,0.5,0.6,0.7,0.8,0.9,2,3,4,5,6,7,8,9,20,30,40,50,60,70,80,90,200,300,400,500,600,700,800,900],"labels":false,"domain":false,"tickSize":-3,"title":null}}}},
{"data":{"name":"visc"},"transform":[{"filter":"datum.p==='C' && datum.s==='67 vol%'"}],"mark":{"type":"point","shape":"M0,-1L1,0L0,1Z","filled":true,"fill":"#000","strokeWidth":0,"size":60,"opacity":1},
"encoding":{"x":{"field":"T","type":"quantitative","axis":null},"y":{"field":"v","type":"quantitative","scale":{"type":"log"},"axis":null}}},
{"data":{"values":[{}]},"mark":{"type":"text","text":"Acetone content","align":"left","baseline":"middle","fontSize":17},"encoding":{"x":{"datum":11.03,"axis":null},"y":{"datum":330,"scale":{"type":"log"},"axis":null}}},
{"data":{"values":[{}]},"mark":{"type":"text","text":"10 mg/ml i5a70i5 solution","align":"right","baseline":"middle","fontSize":16.6,"fontWeight":"bold"},"encoding":{"x":{"datum":44.2,"axis":null},"y":{"datum":330,"scale":{"type":"log"},"axis":null}}},
{"data":{"values":[{}]},"mark":{"type":"text","text":"Angular freq. = 0.1778 rad/s","align":"left","baseline":"middle","fontSize":17},"encoding":{"x":{"datum":10.98,"axis":null},"y":{"datum":0.00023,"scale":{"type":"log"},"axis":null}}},
{"data":{"values":[{}]},"mark":{"type":"text","text":"0 vol%","align":"right","baseline":"middle","fontSize":17},"encoding":{"x":{"datum":22.43,"axis":null},"y":{"datum":109,"scale":{"type":"log"},"axis":null}}},
{"data":{"values":[{}]},"mark":{"type":"text","text":"20 vol%","align":"right","baseline":"middle","fontSize":17},"encoding":{"x":{"datum":22.43,"axis":null},"y":{"datum":40,"scale":{"type":"log"},"axis":null}}},
{"data":{"values":[{}]},"mark":{"type":"text","text":"33 vol%","align":"right","baseline":"middle","fontSize":17},"encoding":{"x":{"datum":22.43,"axis":null},"y":{"datum":13.5,"scale":{"type":"log"},"axis":null}}},
{"data":{"values":[{}]},"mark":{"type":"text","text":"67 vol%","align":"right","baseline":"middle","fontSize":17},"encoding":{"x":{"datum":22.43,"axis":null},"y":{"datum":4.5,"scale":{"type":"log"},"axis":null}}},
{"data":{"values":[{}]},"mark":{"type":"rule","color":"#808080","strokeWidth":1},"encoding":{"x":{"datum":11.03,"axis":null},"x2":{"datum":17.2},"y":{"datum":109,"scale":{"type":"log"},"axis":null}}},
{"data":{"values":[{}]},"mark":{"type":"rule","color":"#808080","strokeWidth":1},"encoding":{"x":{"datum":11.03,"axis":null},"x2":{"datum":17.2},"y":{"datum":40,"scale":{"type":"log"},"axis":null}}},
{"data":{"values":[{}]},"mark":{"type":"rule","color":"#808080","strokeWidth":1},"encoding":{"x":{"datum":11.03,"axis":null},"x2":{"datum":14.1},"y":{"datum":13.5,"scale":{"type":"log"},"axis":null}}},
{"data":{"values":[{}]},"mark":{"type":"rule","color":"#808080","strokeWidth":1},"encoding":{"x":{"datum":11.03,"axis":null},"x2":{"datum":14.1},"y":{"datum":4.5,"scale":{"type":"log"},"axis":null}}},
{"data":{"values":[{}]},"mark":{"type":"point","shape":"square","filled":true,"fill":"#000","strokeWidth":0,"size":42,"opacity":1},"encoding":{"x":{"datum":12.69,"axis":null},"y":{"datum":109,"scale":{"type":"log"},"axis":null}}},
{"data":{"values":[{}]},"mark":{"type":"point","shape":"square","filled":true,"fill":"#fff","stroke":"#333","strokeWidth":1,"size":42,"opacity":1},"encoding":{"x":{"datum":15.86,"axis":null},"y":{"datum":109,"scale":{"type":"log"},"axis":null}}},
{"data":{"values":[{}]},"mark":{"type":"point","shape":"triangle-up","filled":true,"fill":"#000","strokeWidth":0,"size":42,"opacity":1},"encoding":{"x":{"datum":12.69,"axis":null},"y":{"datum":40,"scale":{"type":"log"},"axis":null}}},
{"data":{"values":[{}]},"mark":{"type":"point","shape":"triangle-up","filled":true,"fill":"#fff","stroke":"#333","strokeWidth":1,"size":42,"opacity":1},"encoding":{"x":{"datum":15.86,"axis":null},"y":{"datum":40,"scale":{"type":"log"},"axis":null}}},
{"data":{"values":[{}]},"mark":{"type":"point","shape":"circle","filled":true,"fill":"#fff","stroke":"#333","strokeWidth":1,"size":42,"opacity":1},"encoding":{"x":{"datum":12.5,"axis":null},"y":{"datum":13.5,"scale":{"type":"log"},"axis":null}}},
{"data":{"values":[{}]},"mark":{"type":"point","shape":"diamond","filled":true,"fill":"#fff","stroke":"#111","strokeWidth":1,"size":60,"opacity":1},"encoding":{"x":{"datum":12.69,"axis":null},"y":{"datum":4.5,"scale":{"type":"log"},"axis":null}}},
{"data":{"values":[{}]},"mark":{"type":"point","shape":"M0,-1L1,0L0,1Z","filled":true,"fill":"#000","strokeWidth":0,"size":60,"opacity":1},"encoding":{"x":{"datum":12.69,"axis":null},"y":{"datum":4.5,"scale":{"type":"log"},"axis":null}}}
]}
]
}
